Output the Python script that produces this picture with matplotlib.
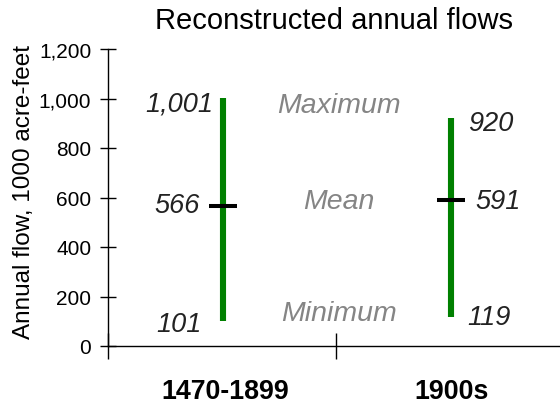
import matplotlib
matplotlib.use("Agg")
import matplotlib.pyplot as plt

categories = ["1470-1899", "1900s"]
minimum = [101, 119]
mean = [566, 591]
maximum = [1001, 920]
stat_names = ["Maximum", "Mean", "Minimum"]
yticks = [0, 200, 400, 600, 800, 1000, 1200]

plt.rcParams['font.family'] = ['Liberation Sans', 'DejaVu Sans']

W, H = 560, 406
fig = plt.figure(figsize=(W / 100, H / 100), dpi=100)
L, R, B, T = 108 / W, 564 / W, 1 - 347 / H, 1 - 50 / H
ax = fig.add_axes([L, B, R - L, T - B])
ax.set_xlim(0, 2)
ax.set_ylim(0, 1200)
for s in ["top", "right"]:
    ax.spines[s].set_visible(False)
ax.spines["left"].set_linewidth(1)
ax.spines["bottom"].set_linewidth(1)

pos = [0.505 + i for i in range(len(categories))]
ax.vlines(pos, minimum, maximum, color="#008000", linewidth=4.4, zorder=2)
ax.plot(pos, mean, linestyle="none", marker="_", markersize=19.5,
        markeredgewidth=2.9, color="black", zorder=3)

ax.set_yticks(yticks)
ax.set_yticklabels([f"{v:,}" for v in yticks], fontsize=15)
ax.tick_params(axis="y", direction="inout", length=12, width=1, pad=6)
ax.set_xticks([0, 1, 2])
ax.set_xticklabels([])
ax.tick_params(axis="x", direction="inout", length=19, width=1)

fig.text(24 / W, 1 - 192 / H, "Annual flow, 1000 acre-feet", rotation=90,
         ha="center", va="center", fontsize=17.5)
fig.text(334 / W, 1 - 29 / H, "Reconstructed annual flows", ha="center",
         va="baseline", fontsize=21)

cat_x = [0.513, 1.507]
for i, c in enumerate(categories):
    ax.text(cat_x[i], -210, c, ha="center", va="baseline", fontsize=19.3,
            fontweight="bold", clip_on=False)

# value labels
vkw = dict(fontsize=19.5, style="italic", color="#222222", va="baseline")
ax.text(0.4605, 953, f"{maximum[0]:,}", ha="right", **vkw)
ax.text(0.4035, 541, f"{mean[0]:,}", ha="right", **vkw)
ax.text(0.412, 61, f"{minimum[0]:,}", ha="right", **vkw)
ax.text(1.579, 873, f"{maximum[1]:,}", ha="left", **vkw)
ax.text(1.610, 558, f"{mean[1]:,}", ha="left", **vkw)
ax.text(1.575, 89, f"{minimum[1]:,}", ha="left", **vkw)

# stat names in the middle
skw = dict(fontsize=20.5, style="italic", color="#858585", ha="center",
           va="baseline")
ax.text(1.012, 945, stat_names[0], **skw)
ax.text(1.012, 558, stat_names[1], **skw)
ax.text(1.012, 105, stat_names[2], **skw)

fig.savefig("out.png", dpi=100)
